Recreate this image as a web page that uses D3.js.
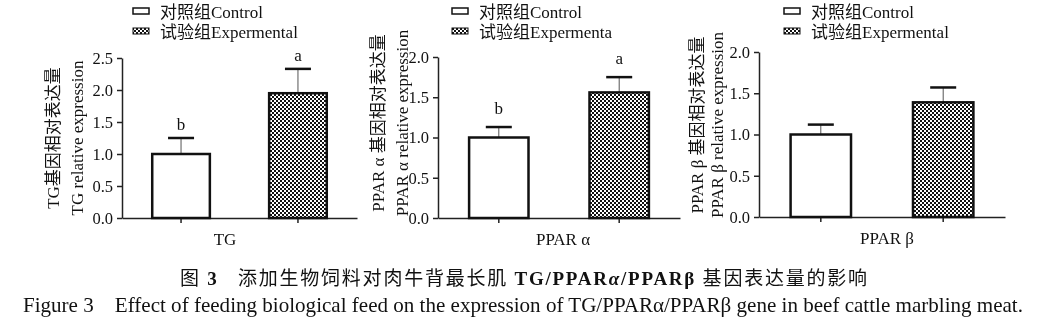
<!DOCTYPE html>
<html><head><meta charset="utf-8">
<script src="https://cdn.jsdelivr.net/npm/d3@7"></script>
<style>
body{margin:0;background:#fff;}
svg{display:block;will-change:transform;-webkit-font-smoothing:antialiased;}
text{font-family:"Liberation Serif","Noto Sans CJK SC",serif;fill:#111;}
</style></head>
<body>
<svg id="c" width="1056" height="326"></svg>
<script>
// ---- data ----
const genes = ["TG", "PPAR α", "PPAR β"];
const groups = ["Control", "Experimental"];
const controlMean = [1.00, 1.00, 1.00];
const controlSE = [0.25, 0.13, 0.12];
const expMean = [1.95, 1.56, 1.39];
const expSE = [0.38, 0.19, 0.18];
const sigLetters = [["b", "a"], ["b", "a"], ["", ""]];
const yMaxes = [2.5, 2.0, 2.0];
const yTickValues = [[0, 0.5, 1.0, 1.5, 2.0, 2.5], [0, 0.5, 1.0, 1.5, 2.0], [0, 0.5, 1.0, 1.5, 2.0]];
const yLabelCN = ["TG基因相对表达量", "PPAR α 基因相对表达量", "PPAR β 基因相对表达量"];
const yLabelEN = ["TG relative expression", "PPAR α  relative expression", "PPAR β  relative expression"];
const legendCtrl = ["对照组Control", "对照组Control", "对照组Control"];
const legendExp = ["试验组Expermental", "试验组Expermenta", "试验组Expermental"];

// ---- layout ----
const L = [
  {ax: 122, xEnd: 357, yTop: 58, yBot: 218, cn: 53, en: 77, lab: 138, legX: 133, xl: 225, gap: 8},
  {ax: 438, xEnd: 680, yTop: 57, yBot: 218, cn: 378, en: 402, lab: 123, legX: 452, xl: 563, gap: 13},
  {ax: 759, xEnd: 1005, yTop: 52, yBot: 217, cn: 697, en: 717, lab: 125, legX: 784, xl: 887, gap: 10}
];

const svg = d3.select("#c");
const defs = svg.append("defs");
const pat = defs.append("pattern").attr("id", "chk").attr("patternUnits", "userSpaceOnUse")
  .attr("width", 4).attr("height", 4);
pat.append("rect").attr("width", 4).attr("height", 4).attr("fill", "#fff");
pat.append("rect").attr("width", 2).attr("height", 2).attr("fill", "#111");
pat.append("rect").attr("x", 2).attr("y", 2).attr("width", 2).attr("height", 2).attr("fill", "#111");

genes.forEach((g, i) => {
  const l = L[i];
  const y = d3.scaleLinear().domain([0, yMaxes[i]]).range([l.yBot, l.yTop]);
  const x = d3.scaleBand().domain(groups).range([l.ax, l.xEnd]).paddingInner(0.49).paddingOuter(0.25);
  const gp = svg.append("g");

  // y axis
  const ya = gp.append("g").attr("transform", `translate(${l.ax},0)`)
    .call(d3.axisLeft(y).tickValues(yTickValues[i]).tickFormat(d3.format(".1f")).tickSize(5).tickSizeOuter(0));
  ya.selectAll("text").style("font-size", "16.5px").attr("dx", "-1");
  ya.select(".domain").attr("stroke", "#222").attr("stroke-width", 1.5);
  ya.selectAll(".tick line").attr("stroke", "#222").attr("stroke-width", 1.5);

  // x axis
  const xa = gp.append("g").attr("transform", `translate(0,${l.yBot})`)
    .call(d3.axisBottom(x).tickSize(5).tickSizeOuter(0).tickFormat(""));
  xa.select(".domain").attr("stroke", "#222").attr("stroke-width", 1.5);
  xa.selectAll(".tick line").attr("stroke", "#222").attr("stroke-width", 1.5);

  const means = [controlMean[i], expMean[i]];
  const ses = [controlSE[i], expSE[i]];

  // error bars
  groups.forEach((grp, j) => {
    const cx = x(grp) + x.bandwidth() / 2;
    gp.append("line").attr("x1", cx).attr("x2", cx)
      .attr("y1", y(means[j])).attr("y2", y(means[j] + ses[j]))
      .attr("stroke", "#555").attr("stroke-width", 1);
    gp.append("line").attr("x1", cx - 13).attr("x2", cx + 13)
      .attr("y1", y(means[j] + ses[j])).attr("y2", y(means[j] + ses[j]))
      .attr("stroke", "#111").attr("stroke-width", 2.5);
    if (sigLetters[i][j]) {
      gp.append("text").attr("x", cx).attr("y", y(means[j] + ses[j]) - l.gap)
        .attr("text-anchor", "middle").style("font-size", "17px").text(sigLetters[i][j]);
    }
  });

  // bars
  gp.selectAll("rect.bar").data(groups).enter().append("rect").attr("class", "bar")
    .attr("x", d => x(d) + 1).attr("width", x.bandwidth() - 2)
    .attr("y", (d, j) => y(means[j])).attr("height", (d, j) => y(0) - y(means[j]))
    .attr("fill", (d, j) => j === 0 ? "#fff" : "url(#chk)")
    .attr("stroke", "#111").attr("stroke-width", 2.5);

  // x label
  gp.append("text").attr("x", l.xl).attr("y", l.yBot + 27)
    .attr("text-anchor", "middle").style("font-size", "17px").text(g);

  // y labels
  gp.append("text").attr("transform", `translate(${l.cn},${l.lab}) rotate(-90)`)
    .attr("text-anchor", "middle").attr("dominant-baseline", "central").style("font-size", "17px").text(yLabelCN[i]);
  gp.append("text").attr("transform", `translate(${l.en},${l.lab}) rotate(-90)`)
    .attr("text-anchor", "middle").attr("dominant-baseline", "central").style("font-size", "17px").text(yLabelEN[i]);

  // legend
  gp.append("rect").attr("x", l.legX).attr("y", 8).attr("width", 16).attr("height", 6)
    .attr("fill", "#fff").attr("stroke", "#111").attr("stroke-width", 1.5);
  gp.append("rect").attr("x", l.legX).attr("y", 28).attr("width", 16).attr("height", 6)
    .attr("fill", "url(#chk)").attr("stroke", "#111").attr("stroke-width", 1);
  gp.append("text").attr("x", l.legX + 27).attr("y", 12).attr("dominant-baseline", "central")
    .style("font-size", "17px").text(legendCtrl[i]);
  gp.append("text").attr("x", l.legX + 27).attr("y", 32).attr("dominant-baseline", "central")
    .style("font-size", "17px").text(legendExp[i]);
});

// captions
const cap1 = svg.append("text").attr("x", 180).attr("y", 285).style("font-size", "19px")
  .attr("textLength", 687).attr("lengthAdjust", "spacing");
cap1.append("tspan").text("图 ");
cap1.append("tspan").style("font-weight", "bold").text("3");
cap1.append("tspan").text("\u00a0\u00a0\u00a0添加生物饲料对肉牛背最长肌 ");
cap1.append("tspan").style("font-weight", "bold").text("TG/PPAR");
cap1.append("tspan").style("font-weight", "bold").style("font-style", "italic").text("α");
cap1.append("tspan").style("font-weight", "bold").text("/PPARβ");
cap1.append("tspan").text(" 基因表达量的影响");

svg.append("text").attr("x", 23).attr("y", 312).style("font-size", "21px")
  .attr("textLength", 1000).attr("lengthAdjust", "spacingAndGlyphs")
  .text("Figure 3\u00a0\u00a0\u00a0\u00a0Effect of feeding biological feed on the expression of TG/PPARα/PPARβ gene in beef cattle marbling meat.");
</script>
</body></html>
